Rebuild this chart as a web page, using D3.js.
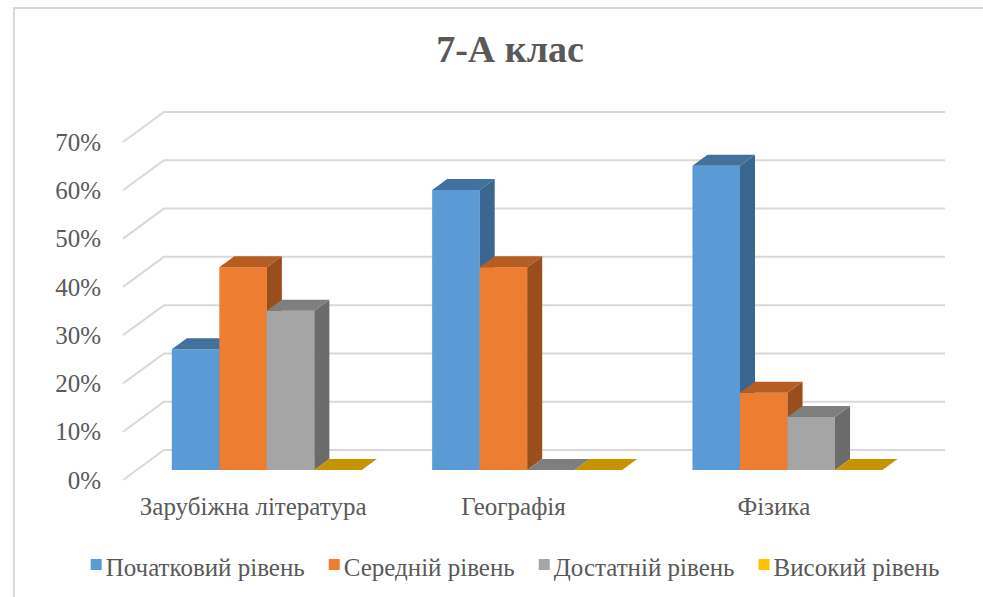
<!DOCTYPE html>
<html>
<head>
<meta charset="utf-8">
<script src="https://cdn.jsdelivr.net/npm/d3@7/dist/d3.min.js"></script>
<style>
  body { margin: 0; background: #fff; }
</style>
</head>
<body>
<div id="chart"></div>
<script>
// дані
var categories = ["Зарубіжна література", "Географія", "Фізика"];
var seriesNames = ["Початковий рівень", "Середній рівень", "Достатній рівень", "Високий рівень"];
var initial = [0.25, 0.58, 0.63];
var middle = [0.42, 0.42, 0.16];
var sufficient = [0.33, 0, 0.11];
var high = [0, 0, 0];
var yTicks = [0, 0.1, 0.2, 0.3, 0.4, 0.5, 0.6, 0.7];

var values = [initial, middle, sufficient, high];
var colors = ["#5b9bd5", "#ed7d31", "#a5a5a5", "#ffc000"];
var topColors = ["#41719c", "#b55d22", "#7f7f7f", "#c49500"];
var sideColors = ["#3a6690", "#9a4e1c", "#6b6b6b", "#a67f00"];

var serif = "'Liberation Serif', 'Times New Roman', serif";
var fontSize = 25;

var width = 983, height = 597;
var svg = d3.select("#chart").append("svg")
    .attr("width", width)
    .attr("height", height)
    .attr("font-family", serif);

// рамка
svg.append("rect")
    .attr("x", 14).attr("y", 8)
    .attr("width", 1000).attr("height", 1000)
    .attr("fill", "none")
    .attr("stroke", "#d9d9d9")
    .attr("stroke-width", 2);

// заголовок
svg.append("text")
    .attr("x", 510).attr("y", 62)
    .attr("text-anchor", "middle")
    .attr("font-family", serif)
    .attr("font-size", 38)
    .attr("font-weight", "bold")
    .attr("fill", "#595959")
    .text("7-А клас");

// глибина 3D
var depthX = 41, depthY = 30;
var zFront = 1 / 3, zBack = 0.7;

var x0 = d3.scaleBand()
    .domain(categories)
    .range([123, 904])
    .paddingInner(0.27)
    .paddingOuter(0.135);

var x1 = d3.scaleBand()
    .domain(d3.range(seriesNames.length))
    .range([0, x0.bandwidth()]);

var y = d3.scaleLinear()
    .domain([0, 0.7])
    .range([480, 142]);

// сітка
var grid = svg.append("g");
yTicks.forEach(function(t) {
    grid.append("path")
        .attr("d", "M" + 123 + "," + y(t) +
                   "L" + (123 + depthX) + "," + (y(t) - depthY) +
                   "L" + (904 + depthX) + "," + (y(t) - depthY))
        .attr("fill", "none")
        .attr("stroke", "#d9d9d9")
        .attr("stroke-width", 2);
});

// вісь Y
svg.append("g")
    .selectAll("text")
    .data(yTicks)
    .enter()
    .append("text")
    .attr("x", 101)
    .attr("y", function(d) { return y(d); })
    .attr("dy", "0.35em")
    .attr("text-anchor", "end")
    .attr("font-family", serif)
    .attr("font-size", fontSize)
    .attr("fill", "#595959")
    .text(d3.format(".0%"));

// стовпчики
function pt(px, py) { return px + "," + py; }
var bars = svg.append("g");
categories.forEach(function(cat, ci) {
    seriesNames.forEach(function(s, si) {
        var v = values[si][ci];
        var xl = x0(cat) + x1(si) + zFront * depthX;
        var xr = xl + x1.bandwidth();
        var yb = y(0) - zFront * depthY;
        var yt = y(v) - zFront * depthY;
        var dx = (zBack - zFront) * depthX, dy = (zBack - zFront) * depthY;
        if (v > 0) {
            bars.append("rect")
                .attr("x", xl).attr("y", yt)
                .attr("width", xr - xl).attr("height", yb - yt)
                .attr("fill", colors[si]);
            bars.append("polygon")
                .attr("points", [pt(xr, yt), pt(xr + dx, yt - dy), pt(xr + dx, yb - dy), pt(xr, yb)].join(" "))
                .attr("fill", sideColors[si]);
        }
        bars.append("polygon")
            .attr("points", [pt(xl, yt), pt(xl + dx, yt - dy), pt(xr + dx, yt - dy), pt(xr, yt)].join(" "))
            .attr("fill", topColors[si]);
    });
});

// підписи категорій
svg.append("g")
    .selectAll("text")
    .data(categories)
    .enter()
    .append("text")
    .attr("x", function(d) { return x0(d) + x0.bandwidth() / 2; })
    .attr("y", 515)
    .attr("text-anchor", "middle")
    .attr("font-family", serif)
    .attr("font-size", fontSize)
    .attr("fill", "#595959")
    .text(function(d) { return d; });

// легенда
var legend = svg.append("g");
var items = legend.selectAll("g")
    .data(seriesNames)
    .enter()
    .append("g");
items.append("rect")
    .attr("width", 11).attr("height", 11)
    .attr("y", 559)
    .attr("fill", function(d, i) { return colors[i]; });
items.append("text")
    .attr("x", 15)
    .attr("y", 576)
    .attr("font-family", serif)
    .attr("font-size", fontSize)
    .attr("fill", "#595959")
    .text(function(d) { return d; });
var gap = 24, pos = 0, offsets = [];
items.each(function() {
    offsets.push(pos);
    pos += 15 + this.querySelector("text").getComputedTextLength() + gap;
});
var total = pos - gap;
var startX = 515 - total / 2;
items.attr("transform", function(d, i) { return "translate(" + (startX + offsets[i]) + ",0)"; });
</script>
</body>
</html>
